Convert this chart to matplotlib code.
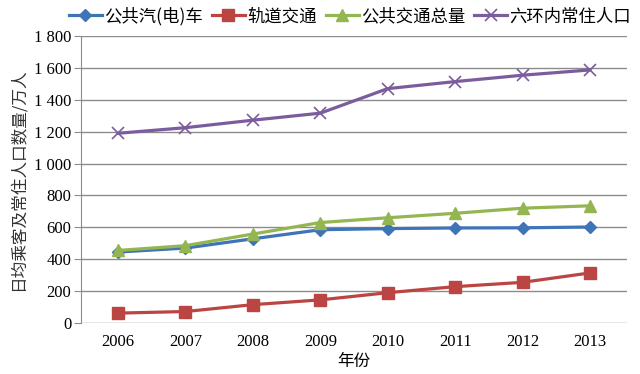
import matplotlib.pyplot as plt
from matplotlib.ticker import FuncFormatter

plt.rcParams['font.family'] = ['Noto Sans CJK SC', 'DejaVu Sans']

# data (万人)
years = ["2006", "2007", "2008", "2009", "2010", "2011", "2012", "2013"]
bus = [445, 470, 528, 585, 592, 596, 597, 602]
rail = [62, 72, 115, 145, 190, 228, 255, 314]
total = [455, 485, 558, 630, 660, 688, 720, 735]
population = [1190, 1225, 1272, 1316, 1470, 1514, 1554, 1587]

fig = plt.figure(figsize=(6.4, 3.74), dpi=100)
ax = fig.add_axes([81/640, 1 - 323/374, 546/640, 287/374])

x = range(len(years))
ax.plot(x, bus, color="#3f74b6", lw=2.3, marker="D", ms=6, label="公共汽(电)车")
ax.plot(x, rail, color="#bb4542", lw=2.3, marker="s", ms=8, label="轨道交通")
ax.plot(x, total, color="#93b650", lw=2.3, marker="^", ms=8, label="公共交通总量")
ax.plot(x, population, color="#7b5d9e", lw=2.3, marker="x", ms=9, mew=1.2,
        label="六环内常住人口")

ax.set_xlim(-0.55, len(years) - 0.45)
ax.set_ylim(0, 1800)
ax.set_yticks(range(0, 1801, 200))
ax.yaxis.set_major_formatter(FuncFormatter(
    lambda v, p: f"{int(v):,}".replace(",", " ")))
ax.set_xticks(list(x))
ax.set_xticklabels(years)
ax.grid(axis="y", color="#8c8c8c", lw=1)
ax.set_axisbelow(True)
for s in ["top", "right", "bottom"]:
    ax.spines[s].set_visible(False)
ax.spines["left"].set_color("#8c8c8c")
ax.tick_params(axis="x", length=0, pad=8)
ax.tick_params(axis="y", length=5, color="#8c8c8c", pad=2)
for lab in ax.get_xticklabels() + ax.get_yticklabels():
    lab.set_fontfamily("Liberation Serif")
    lab.set_fontsize(12)

ax.set_xlabel("年份", fontsize=12, labelpad=2)
ax.set_ylabel("日均乘客及常住人口数量/万人", fontsize=12, labelpad=5, color="#333333")

ax.legend(loc="center", bbox_to_anchor=(0.5 - 4/546, 1 + 20/287), ncol=4,
          frameon=False, fontsize=12.5, handlelength=1.9, handletextpad=0.15,
          columnspacing=0.5, borderaxespad=0, borderpad=0)

fig.savefig("out.png", dpi=100)
